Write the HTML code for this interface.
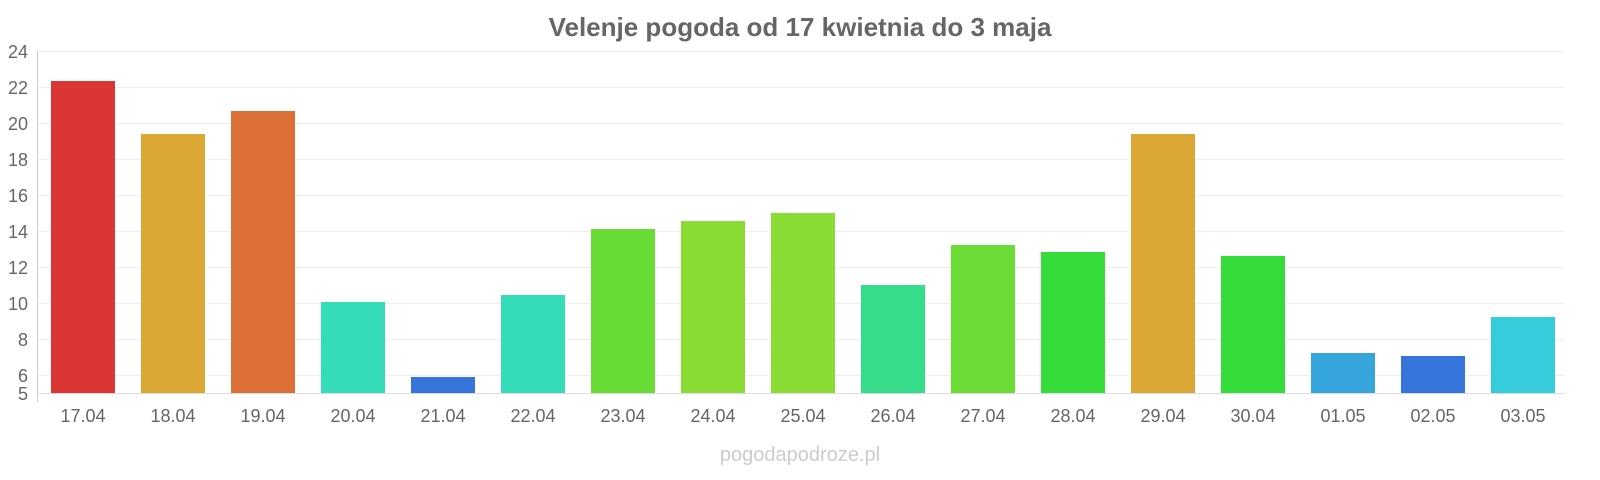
<!DOCTYPE html>
<html><head><meta charset="utf-8"><style>
html,body{margin:0;padding:0;background:#fff;width:1600px;height:480px;overflow:hidden;font-family:"Liberation Sans",sans-serif}
</style></head><body>
<svg width="1600" height="480" xmlns="http://www.w3.org/2000/svg" font-family="Liberation Sans, sans-serif">
<text x="800" y="36" text-anchor="middle" font-size="26" font-weight="bold" fill="#666">Velenje pogoda od 17 kwietnia do 3 maja</text>
<g stroke="#eee" stroke-width="1">
<line x1="38" x2="1565" y1="51.5" y2="51.5"/><line x1="38" x2="1565" y1="87.5" y2="87.5"/>
<line x1="38" x2="1565" y1="123.5" y2="123.5"/><line x1="38" x2="1565" y1="159.5" y2="159.5"/>
<line x1="38" x2="1565" y1="195.5" y2="195.5"/><line x1="38" x2="1565" y1="231.5" y2="231.5"/>
<line x1="38" x2="1565" y1="267.5" y2="267.5"/><line x1="38" x2="1565" y1="303.5" y2="303.5"/>
<line x1="38" x2="1565" y1="339.5" y2="339.5"/><line x1="38" x2="1565" y1="375.5" y2="375.5"/>
</g>
<line x1="37.5" x2="37.5" y1="51" y2="402" stroke="#ccc"/>
<line x1="38" x2="1565" y1="393.5" y2="393.5" stroke="#ddd"/>
<g font-size="18" fill="#666" text-anchor="end">
<text x="28" y="58">24</text><text x="28" y="94">22</text><text x="28" y="130">20</text>
<text x="28" y="166">18</text><text x="28" y="202">16</text><text x="28" y="238">14</text>
<text x="28" y="274">12</text><text x="28" y="310">10</text><text x="28" y="346">8</text>
<text x="28" y="382">6</text><text x="28" y="400">5</text>
</g>
<g>
<rect x="51" y="81" width="64" height="312" fill="#dc3535"/>
<rect x="141" y="134" width="64" height="259" fill="#dca835"/>
<rect x="231" y="111" width="64" height="282" fill="#dc6f35"/>
<rect x="321" y="302" width="64" height="91" fill="#35dcb8"/>
<rect x="411" y="377" width="64" height="16" fill="#3575dc"/>
<rect x="501" y="295" width="64" height="98" fill="#35dcb8"/>
<rect x="591" y="229" width="64" height="164" fill="#68dc35"/>
<rect x="681" y="221" width="64" height="172" fill="#8adc35"/>
<rect x="771" y="213" width="64" height="180" fill="#8adc35"/>
<rect x="861" y="285" width="64" height="108" fill="#35dc8a"/>
<rect x="951" y="245" width="64" height="148" fill="#6adc35"/>
<rect x="1041" y="252" width="64" height="141" fill="#35dc3a"/>
<rect x="1131" y="134" width="64" height="259" fill="#dca835"/>
<rect x="1221" y="256" width="64" height="137" fill="#35dc3a"/>
<rect x="1311" y="353" width="64" height="40" fill="#35a5dc"/>
<rect x="1401" y="356" width="64" height="37" fill="#3575dc"/>
<rect x="1491" y="317" width="64" height="76" fill="#35cddc"/>
</g>
<g font-size="18" fill="#666" text-anchor="middle">
<text x="83" y="422">17.04</text><text x="173" y="422">18.04</text><text x="263" y="422">19.04</text>
<text x="353" y="422">20.04</text><text x="443" y="422">21.04</text><text x="533" y="422">22.04</text>
<text x="623" y="422">23.04</text><text x="713" y="422">24.04</text><text x="803" y="422">25.04</text>
<text x="893" y="422">26.04</text><text x="983" y="422">27.04</text><text x="1073" y="422">28.04</text>
<text x="1163" y="422">29.04</text><text x="1253" y="422">30.04</text><text x="1343" y="422">01.05</text>
<text x="1433" y="422">02.05</text><text x="1523" y="422">03.05</text>
</g>
<text x="800" y="461" text-anchor="middle" font-size="20" fill="#ccc">pogodapodroze.pl</text>
</svg>
</body></html>
